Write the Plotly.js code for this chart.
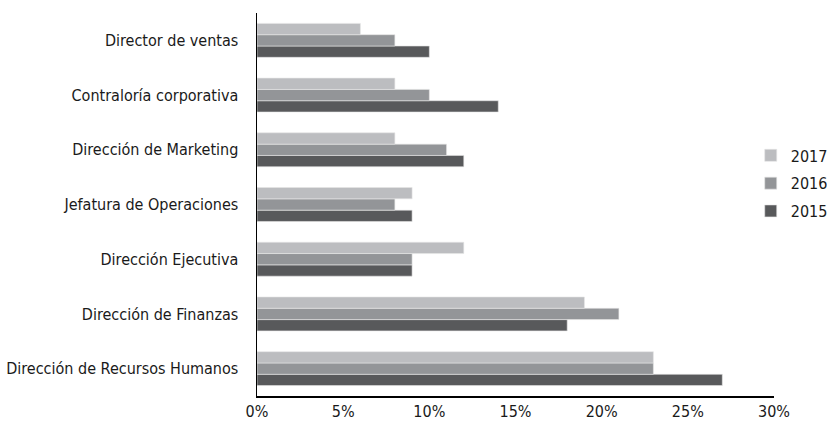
<!DOCTYPE html>
<html>
<head>
<meta charset="utf-8">
<script src="https://cdn.plot.ly/plotly-3.0.1.min.js"></script>
<style>html,body{margin:0;padding:0;background:#fff;}#chart{width:827px;height:421px;}</style>
</head>
<body>
<div id="chart"></div>
<script>
const categories = [
  "Dirección de Recursos Humanos",
  "Dirección de Finanzas",
  "Dirección Ejecutiva",
  "Jefatura de Operaciones",
  "Dirección de Marketing",
  "Contraloría corporativa",
  "Director de ventas"
];
const values2015 = [0.27, 0.18, 0.09, 0.09, 0.12, 0.14, 0.10];
const values2016 = [0.23, 0.21, 0.09, 0.08, 0.11, 0.10, 0.08];
const values2017 = [0.23, 0.19, 0.12, 0.09, 0.08, 0.08, 0.06];
const seriesNames = ["2015", "2016", "2017"];
const seriesColors = ["#58595b", "#939598", "#bcbdc0"];
const legendRanks = [3, 2, 1];
const xTicks = [0, 0.05, 0.10, 0.15, 0.20, 0.25, 0.30];

const FONT = "'DejaVu Sans Condensed', 'Liberation Sans Narrow', sans-serif";
const allValues = [values2015, values2016, values2017];
const traces = allValues.map((v, i) => ({
  type: 'bar',
  orientation: 'h',
  name: seriesNames[i],
  legendgroup: 'g' + i,
  legendrank: legendRanks[i],
  y: categories,
  x: v,
  marker: {color: seriesColors[i], line: {color: '#e6e6e6', width: 0.6}},
  hoverinfo: 'x+y'
}));

const layout = {
  width: 827, height: 421,
  margin: {l: 257, r: 53, t: 13, b: 25, autoexpand: false},
  paper_bgcolor: '#ffffff', plot_bgcolor: '#ffffff',
  barmode: 'group',
  bargap: 0.38,
  bargroupgap: 0,
  font: {family: FONT, size: 16, color: '#1a1a1a'},
  showlegend: true,
  legend: {
    traceorder: 'grouped',
    x: 0.955, xanchor: 'left', y: 0.555, yanchor: 'middle',
    font: {family: FONT, size: 16, color: '#1a1a1a'},
    itemwidth: 30, tracegroupgap: 4,
    bgcolor: 'rgba(0,0,0,0)'
  },
  xaxis: {
    range: [0, 0.30],
    tickvals: xTicks,
    tickformat: '.0%',
    showgrid: false, zeroline: false,
    showline: true, linecolor: '#000', linewidth: 1.5,
    ticks: '', ticklabelstandoff: 0,
    tickfont: {family: FONT, size: 16, color: '#1a1a1a'}
  },
  yaxis: {
    type: 'category',
    showgrid: false, zeroline: false,
    showline: true, linecolor: '#000', linewidth: 1.5,
    ticks: '', ticklabelstandoff: 14,
    tickfont: {family: FONT, size: 16, color: '#1a1a1a'}
  }
};

Plotly.newPlot('chart', traces, layout, {displayModeBar: false, staticPlot: true});
</script>
</body>
</html>
